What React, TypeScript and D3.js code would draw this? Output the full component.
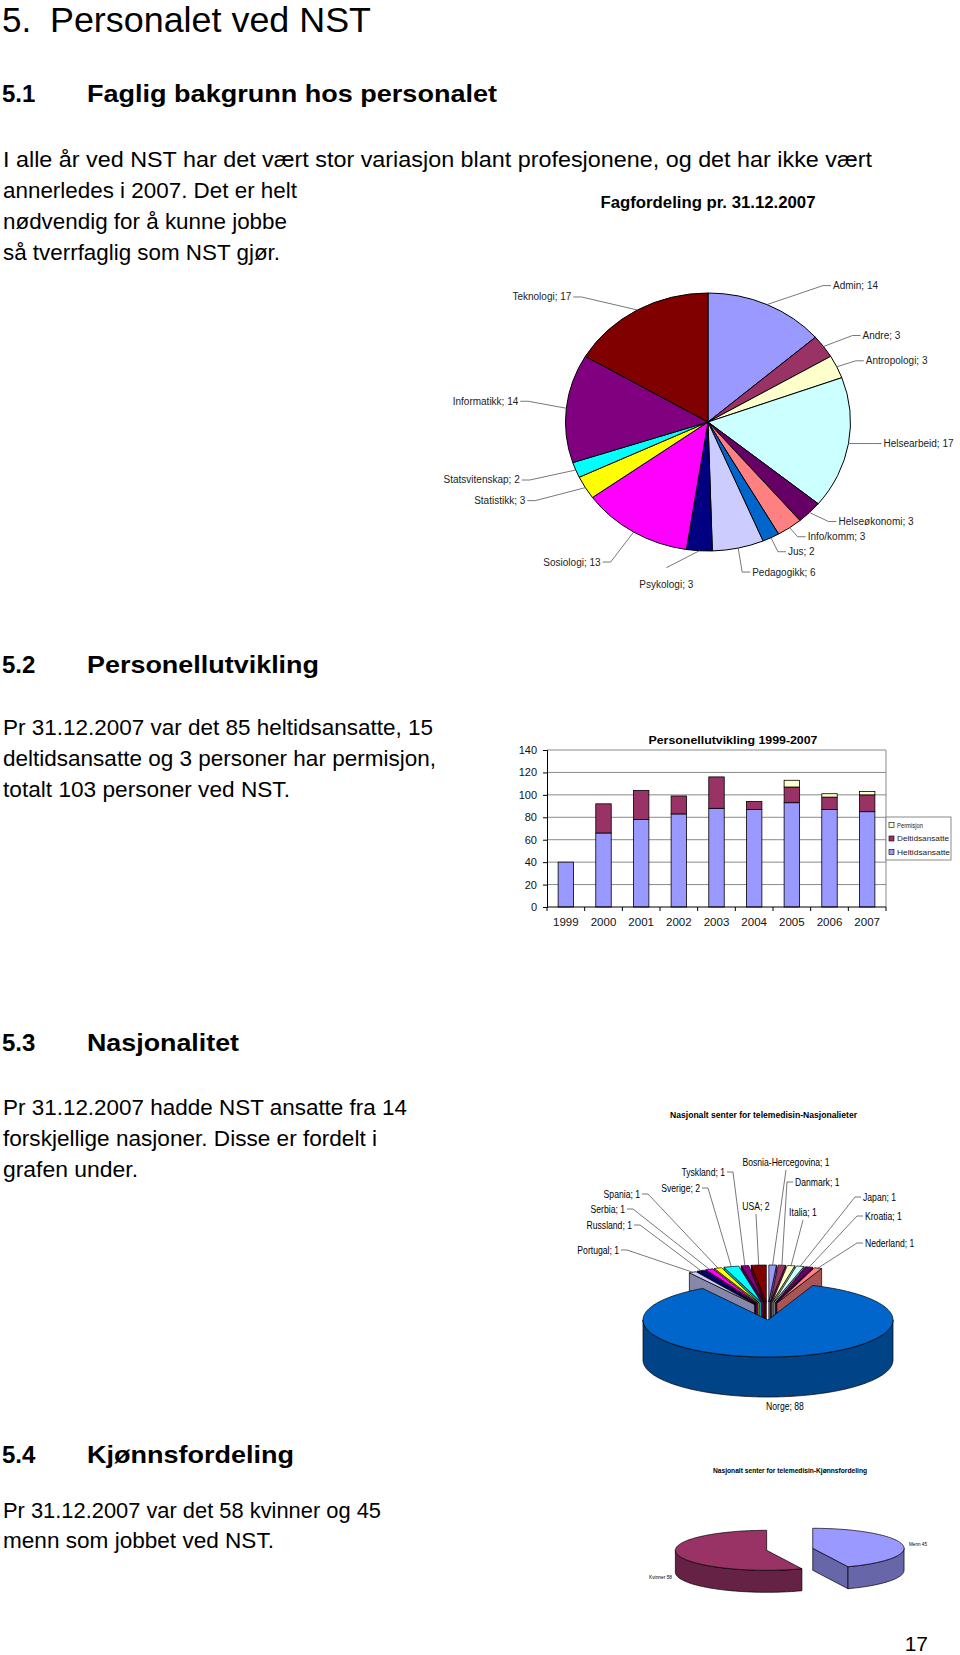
import { useRef, useEffect } from "react";
import * as d3 from "d3";

const W = 960
const H = 1655
const FONT = "'Liberation Sans', Arial, sans-serif"

// ---- page text ----
const intro51 = [
    "I alle år ved NST har det vært stor variasjon blant profesjonene, og det har ikke vært",
    "annerledes i 2007. Det er helt",
    "nødvendig for å kunne jobbe",
    "så tverrfaglig som NST gjør.",
]
const intro52 = [
    "Pr 31.12.2007 var det 85 heltidsansatte, 15",
    "deltidsansatte og 3 personer har permisjon,",
    "totalt 103 personer ved NST.",
]
const intro53 = [
    "Pr 31.12.2007 hadde NST ansatte fra 14",
    "forskjellige nasjoner. Disse er fordelt i",
    "grafen under.",
]
const intro54 = [
    "Pr 31.12.2007 var det 58 kvinner og 45",
    "menn som jobbet ved NST.",
]

// ---- 5.1 fagfordeling ----
const fagNames = ["Admin", "Andre", "Antropologi", "Helsearbeid", "Helseøkonomi", "Info/komm", "Jus", "Pedagogikk", "Psykologi", "Sosiologi", "Statistikk", "Statsvitenskap", "Informatikk", "Teknologi"]
const fagValues = [14, 3, 3, 17, 3, 3, 2, 6, 3, 13, 3, 2, 14, 17]
const fagColors = ["#9999FF", "#993366", "#FFFFCC", "#CCFFFF", "#660066", "#FF8080", "#0066CC", "#CCCCFF", "#000080", "#FF00FF", "#FFFF00", "#00FFFF", "#800080", "#800000"]
// leader elbow offset from the slice edge, and which side the label sits
const fagLabelPos: [number, number, string][] = [
    [56, -19, "r"], [29, -11, "r"], [19, -6, "r"], [25, 0, "r"], [19, 9, "r"], [8, 9, "r"], [7, 14, "r"],
    [4, 24, "r"], [-33, 17, "b"], [-23, 30, "l"], [-50, 13, "l"], [-46, 10, "l"], [-38, -7, "l"], [-56, -13, "l"],
]

// ---- 5.2 personellutvikling ----
const years = ["1999", "2000", "2001", "2002", "2003", "2004", "2005", "2006", "2007"]
const heltid = [40, 66, 78, 83, 88, 87, 93, 87, 85]
const deltid = [0, 26, 26, 16, 28, 7, 14, 11, 15]
const permisjon = [0, 0, 0, 0, 0, 0, 6, 3, 3]
const barKeys = ["heltid", "deltid", "permisjon"]
const barLegend = ["Heltidsansatte", "Deltidsansatte", "Permisjon"]
const barColors = ["#9999FF", "#993366", "#FFFFCC"]
const yTicks = [0, 20, 40, 60, 80, 100, 120, 140]

// ---- 5.3 nasjonalitet ----
const nasjoner = ["Bosnia-Hercegovina", "Danmark", "Italia", "Japan", "Kroatia", "Nederland", "Norge", "Portugal", "Russland", "Serbia", "Spania", "Sverige", "Tyskland", "USA"]
const nasjonAntall = [1, 1, 1, 1, 1, 1, 88, 1, 1, 1, 1, 2, 1, 2]
const nasjonColors = ["#9999FF", "#993366", "#FFFFCC", "#CCFFFF", "#660066", "#FF8080", "#0066CC", "#CCCCFF", "#000080", "#FF00FF", "#FFFF00", "#00FFFF", "#800080", "#800000"]
// label position relative to the pie centre
const nasjonLabelPos: [number, number, string][] = [
    [18, -158, "a"], [19, -138, "r"], [35, -108, "a"], [87, -123, "r"], [89, -104, "r"], [89, -77, "r"],
    [17, 86, "n"], [-141, -70, "l"], [-128, -95, "l"], [-135, -111, "l"], [-120, -126, "l"], [-60, -132, "l"],
    [-35, -148, "l"], [-12, -114, "a"],
]

// ---- 5.4 kjønnsfordeling ----
const kjonn = ["Menn", "Kvinner"]
const kjonnAntall = [45, 58]
const kjonnColors = ["#9999FF", "#993366"]

function txt(g: any, x: number, y: number, s: string, size: number, o: any = {}) {
    const t = g.append("text")
        .attr("x", x).attr("y", y)
        .attr("font-size", size)
        .attr("font-family", FONT)
        .attr("fill", "#000")
        .text(s)
    if (o.bold) t.attr("font-weight", "bold")
    if (o.anchor) t.attr("text-anchor", o.anchor)
    if (o.len) t.attr("textLength", o.len).attr("lengthAdjust", "spacingAndGlyphs")
    if (o.squeeze) {
        // narrow face is not installed, so condense the normal one
        const w = t.node().getComputedTextLength()
        t.attr("textLength", w * o.squeeze).attr("lengthAdjust", "spacingAndGlyphs")
    }
    return t
}

function drawPage(svg: any) {
    txt(svg, 2, 31.5, "5.", 35)
    txt(svg, 50, 31.5, "Personalet ved NST", 35, { len: 321 })

    const heads: [string, string, number, number, number][] = [
        ["5.1", "Faglig bakgrunn hos personalet", 87, 410, 102],
        ["5.2", "Personellutvikling", 87, 232, 673],
        ["5.3", "Nasjonalitet", 87, 152, 1051],
        ["5.4", "Kjønnsfordeling", 87, 207, 1463],
    ]
    heads.forEach(([n, s, x, len, y]) => {
        txt(svg, 2, y, n, 24, { bold: true })
        txt(svg, x, y, s, 24, { bold: true, len })
    })

    const paras: [string[], number[], number[]][] = [
        [intro51, [167, 198, 229, 260], [869, 294, 284, 277]],
        [intro52, [735, 766, 797], [430, 433, 287]],
        [intro53, [1115, 1146, 1177], [404, 374, 135]],
        [intro54, [1518, 1548], [378, 271]],
    ]
    paras.forEach(([lines, ys, lens]) => {
        lines.forEach((l, i) => txt(svg, 3, ys[i], l, 21.5, { len: lens[i] }))
    })

    txt(svg, 928, 1651, "17", 21, { anchor: "end" })
}

function drawFag(svg: any) {
    const cx = 708, cy = 422, rx = 142.5, ry = 129
    const g = svg.append("g")
    txt(g, cx, 208, "Fagfordeling pr. 31.12.2007", 16, { bold: true, anchor: "middle", len: 215 })

    const arcs = d3.pie<number>().sort(null)(fagValues)
    const arc = d3.arc<any>().innerRadius(0).outerRadius(rx)

    g.append("g")
        .attr("transform", `translate(${cx},${cy}) scale(1,${ry / rx})`)
        .selectAll("path")
        .data(arcs)
        .join("path")
        .attr("d", arc)
        .attr("fill", (d: any, i: number) => fagColors[i])
        .attr("stroke", "#000")
        .attr("stroke-width", 1)
        .attr("vector-effect", "non-scaling-stroke")

    arcs.forEach((a, i) => {
        const mid = (a.startAngle + a.endAngle) / 2
        const ax = cx + rx * Math.sin(mid)
        const ay = cy - ry * Math.cos(mid)
        const [dx, dy, side] = fagLabelPos[i]
        const ex = ax + dx, ey = ay + dy
        const label = `${fagNames[i]}; ${fagValues[i]}`
        let pts: [number, number][]
        if (side === "b") {
            pts = [[ax, ay], [ex, ey]]
            txt(g, ex, ey + 20, label, 10, { anchor: "middle" }).attr("fill", "#222")
        } else {
            const s = side === "r" ? 1 : -1
            pts = [[ax, ay], [ex, ey], [ex + 8 * s, ey]]
            txt(g, ex + 10 * s, ey + 3.5, label, 10, { anchor: side === "r" ? "start" : "end" }).attr("fill", "#222")
        }
        g.append("path")
            .attr("d", d3.line()(pts))
            .attr("fill", "none")
            .attr("stroke", "#555")
            .attr("stroke-width", 0.8)
    })
}

function drawBars(svg: any) {
    const g = svg.append("g")
    const x = d3.scaleBand().domain(years).range([547, 886]).paddingInner(0.59).paddingOuter(0.295)
    const y = d3.scaleLinear().domain([0, 140]).range([907, 750])

    txt(g, 733, 744, "Personellutvikling 1999-2007", 11.5, { bold: true, anchor: "middle", len: 169 })

    g.selectAll(".grid")
        .data(yTicks.filter(v => v > 0))
        .join("line")
        .attr("x1", 547).attr("x2", 886)
        .attr("y1", (d: number) => y(d)).attr("y2", (d: number) => y(d))
        .attr("stroke", "#8a8a8a").attr("stroke-width", 1)
    g.append("line")
        .attr("x1", 886).attr("x2", 886).attr("y1", y(140)).attr("y2", y(0))
        .attr("stroke", "#8a8a8a")

    const rows = years.map((yr, i) => ({ yr, heltid: heltid[i], deltid: deltid[i], permisjon: permisjon[i] }))
    const series = d3.stack<any>().keys(barKeys)(rows)
    series.forEach((s, k) => {
        g.append("g").selectAll("rect")
            .data(s.filter(d => d[1] > d[0]))
            .join("rect")
            .attr("x", (d: any) => x(d.data.yr))
            .attr("y", (d: any) => y(d[1]))
            .attr("width", x.bandwidth())
            .attr("height", (d: any) => y(d[0]) - y(d[1]))
            .attr("fill", barColors[k])
            .attr("stroke", "#000")
            .attr("stroke-width", 0.8)
    })

    g.append("g")
        .attr("transform", "translate(547,0)")
        .call(d3.axisLeft(y).tickValues(yTicks).tickSize(4).tickPadding(6))
        .call((a: any) => a.selectAll("text").attr("font-size", 11).attr("font-family", FONT).attr("fill", "#111"))
        .call((a: any) => a.select(".domain").attr("stroke", "#000"))

    // category axis, ticks between the bars
    const gap = (x.step() - x.bandwidth()) / 2
    const bounds = years.map(yr => (x(yr) as number) - gap).concat([(x(years[years.length - 1]) as number) + x.bandwidth() + gap])
    g.append("line").attr("x1", 547).attr("x2", 886).attr("y1", y(0)).attr("y2", y(0)).attr("stroke", "#000")
    g.selectAll(".xt").data(bounds).join("line")
        .attr("x1", (d: number) => d).attr("x2", (d: number) => d)
        .attr("y1", y(0)).attr("y2", y(0) + 4)
        .attr("stroke", "#000")
    years.forEach(yr => txt(g, (x(yr) as number) + x.bandwidth() / 2, 926, yr, 11.5, { anchor: "middle" }).attr("fill", "#111"))

    // legend
    g.append("rect").attr("x", 886).attr("y", 817).attr("width", 65).attr("height", 43)
        .attr("fill", "#fff").attr("stroke", "#8a8a8a")
    const lenLeg = [53, 52, 26]
    ;[2, 1, 0].forEach((k, j) => {
        const ly = 825 + j * 13.5
        g.append("rect").attr("x", 889).attr("y", ly - 2.5).attr("width", 5).attr("height", 5)
            .attr("fill", barColors[k]).attr("stroke", "#000").attr("stroke-width", 0.6)
        txt(g, 897, ly + 2.5, barLegend[k], 7, { len: lenLeg[k] }).attr("fill", "#222")
    })
}

function pie3d(g: any, values: number[], colors: string[], o: any) {
    const { cx, cy, rx, ry, depth, explode, lift } = o
    const arcs = d3.pie<number>().sort(null)(values)
    const items = arcs.map((a, i) => {
        const mid = (a.startAngle + a.endAngle) / 2
        const e = explode[i]
        return { a, i, mid, ox: cx + Math.sin(mid) * e, oy: cy - Math.cos(mid) * e * lift }
    })
    items.sort((p, q) => Math.cos(q.mid) - Math.cos(p.mid))

    const line = d3.line()
    items.forEach(({ a, i, ox, oy }) => {
        const along = (a0: number, a1: number, z: number) => {
            const n = Math.max(2, Math.ceil(Math.abs(a1 - a0) * 40))
            return d3.range(n + 1).map(k => {
                const ang = a0 + (a1 - a0) * k / n
                return [ox + rx * Math.sin(ang), oy - ry * Math.cos(ang) + z] as [number, number]
            })
        }
        const top = colors[i]
        const side = (d3.color(top) as any).darker(1.15).formatHex()
        const poly = (pts: [number, number][], fill: string) =>
            g.append("path").attr("d", line(pts) + "Z").attr("fill", fill)
                .attr("stroke", "#000").attr("stroke-width", 0.7).attr("stroke-linejoin", "round")

        // cut faces
        ;[[a.startAngle, -1], [a.endAngle, 1]].forEach(([ang, sg]) => {
            if (sg * Math.sin(ang) > 0.001) {
                const ex = ox + rx * Math.sin(ang), ey = oy - ry * Math.cos(ang)
                poly([[ox, oy], [ex, ey], [ex, ey + depth], [ox, oy + depth]], side)
            }
        })
        // rim
        const lo = Math.max(a.startAngle, Math.PI / 2), hi = Math.min(a.endAngle, Math.PI * 1.5)
        if (hi > lo) poly(along(lo, hi, 0).concat(along(hi, lo, depth)), side)
        // top face
        poly([[ox, oy] as [number, number]].concat(along(a.startAngle, a.endAngle, 0)), top)
    })
    return items
}

function drawNasjon(svg: any) {
    const g = svg.append("g")
    const cx = 768, cy = 1320, rx = 125, ry = 37
    txt(g, 763.5, 1118, "Nasjonalt senter for telemedisin-Nasjonalieter", 9, { bold: true, anchor: "middle", len: 187 })

    const explode = nasjonAntall.map(v => (v > 50 ? 0 : 27))
    const items = pie3d(g, nasjonAntall, nasjonColors, { cx, cy, rx, ry, depth: 40, explode, lift: 0.667 })

    items.forEach(({ i, mid, ox, oy }: any) => {
        const ax = ox + rx * Math.sin(mid), ay = oy - ry * Math.cos(mid)
        const [dx, dy, side] = nasjonLabelPos[i]
        const lx = cx + dx, ly = cy + dy
        const label = `${nasjoner[i]}; ${nasjonAntall[i]}`
        let pts: [number, number][] | null = null
        if (side === "n") {
            txt(g, lx, ly + 3.5, label, 10.5, { anchor: "middle", squeeze: 0.82 })
        } else if (side === "a") {
            txt(g, lx, ly + 3.5, label, 10.5, { anchor: "middle", squeeze: 0.82 })
            pts = [[lx, ly + 8], [ax, ay]]
        } else {
            const s = side === "r" ? 1 : -1
            txt(g, lx + 8 * s, ly + 3.5, label, 10.5, { anchor: side === "r" ? "start" : "end", squeeze: 0.82 })
            pts = [[ax, ay], [lx, ly], [lx + 6 * s, ly]]
        }
        if (pts) g.append("path").attr("d", d3.line()(pts)).attr("fill", "none").attr("stroke", "#555").attr("stroke-width", 0.8)
    })
}

function drawKjonn(svg: any) {
    const g = svg.append("g")
    txt(g, 790, 1473, "Nasjonalt senter for telemedisin-Kjønnsfordeling", 6.5, { bold: true, anchor: "middle", len: 154 })
    pie3d(g, kjonnAntall, kjonnColors, { cx: 789.7, cy: 1549.3, rx: 91.3, ry: 20, depth: 22, explode: [23.5, 23.5], lift: 20 / 91.3 })
    txt(g, 909, 1545.5, `${kjonn[0]} ${kjonnAntall[0]}`, 4.5, { len: 18 })
    txt(g, 649, 1578.5, `${kjonn[1]} ${kjonnAntall[1]}`, 4.5, { len: 23 })
}

export default function App() {
    const svgRef = useRef<SVGSVGElement>(null)

    useEffect(() => {
        const svg = d3.select(svgRef.current).html(null)
        drawPage(svg)
        drawFag(svg)
        drawBars(svg)
        drawNasjon(svg)
        drawKjonn(svg)
    }, [])

    return <svg ref={svgRef} width={W} height={H}
        style={{ position: "absolute", left: 0, top: 0, background: "#fff" }}></svg>
}
